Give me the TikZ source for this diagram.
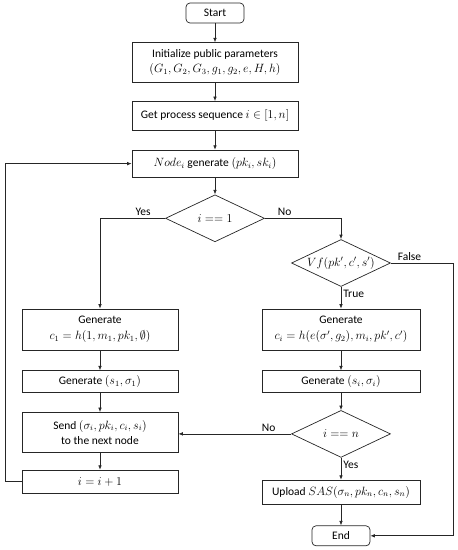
\documentclass[tikz,border=0pt]{standalone}
\usepackage{amsmath}
\usepackage{amssymb}
\usepackage{fontspec}
\setmainfont{Carlito}
\usetikzlibrary{arrows.meta,positioning,shapes.geometric}
\definecolor{fcedge}{RGB}{38,38,38}
\tikzset{
  fcbox/.style={
    draw=fcedge, line width=0.7pt, align=center, inner sep=2pt,
    font=\fontsize{11.5}{15.5}\selectfont
  },
  wbox/.style={fcbox, minimum width=166pt},
  lbox/.style={fcbox, minimum width=156pt},
  rbox/.style={fcbox, minimum width=158pt},
  term/.style={fcbox, rounded corners=4pt, minimum width=58pt, minimum height=20pt},
  dec/.style={
    draw=fcedge, line width=0.7pt, diamond, aspect=2.1, inner sep=0pt,
    minimum width=99pt, minimum height=47pt, font=\fontsize{11.5}{15.5}\selectfont
  },
  arr/.style={-{Latex[length=4.5pt,width=3.6pt]}, draw=fcedge, line width=0.7pt},
  lbl/.style={font=\fontsize{11.5}{15.5}\selectfont, inner sep=2pt}
}
\begin{document}
\begin{tikzpicture}[x=1pt, y=-1pt]
  \useasboundingbox (0,0) rectangle (458,550);
  % main column
  \node[term] (start) at (215,13) {Start};
  \node[wbox, minimum height=40pt, below=19pt of start] (init)
    {Initialize public parameters\\$(G_1, G_2, G_3, g_1, g_2, e, H, h)$};
  \node[wbox, minimum height=29pt, below=18pt of init] (seq)
    {Get process sequence $i \in [1, n]$};
  \node[wbox, minimum height=27pt, below=19pt of seq] (keygen)
    {$Node_i$ generate $(pk_i, sk_i)$};
  \node[dec, below=17pt of keygen] (isfirst) {$i == 1$};
  % left column
  \node[lbox, minimum height=41pt] (genl) at (100,329.5)
    {Generate\\$c_1 = h(1, m_1, pk_1, \emptyset)$};
  \node[lbox, minimum height=22pt, below=20pt of genl] (sigl)
    {Generate $(s_1, \sigma_1)$};
  \node[lbox, minimum height=40pt, below=19pt of sigl] (send)
    {Send $(\sigma_i, pk_i, c_i, s_i)$\\to the next node};
  \node[lbox, minimum height=23pt, below=17pt of send] (inc) {$i = i + 1$};
  % right column
  \node[dec] (verify) at (341,263) {$Vf(pk', c', s')$};
  \node[rbox, minimum height=41pt] (genr) at (341,329.5)
    {Generate\\$c_i = h(e(\sigma', g_2), m_i, pk', c')$};
  \node[rbox, minimum height=22pt, below=20pt of genr] (sigr)
    {Generate $(s_i, \sigma_i)$};
  \node[dec, below=17pt of sigr] (islast) {$i == n$};
  \node[rbox, minimum height=24pt, below=22pt of islast] (upload)
    {Upload $SAS(\sigma_n, pk_n, c_n, s_n)$};
  \node[term, below=21pt of upload] (end) {End};
  \coordinate (rside) at (453,0);
  \coordinate (lside) at (5,0);

  \draw[arr] (start) -- (init);
  \draw[arr] (init) -- (seq);
  \draw[arr] (seq) -- (keygen);
  \draw[arr] (keygen) -- (isfirst);
  \draw[arr] (isfirst.west) -| node[lbl, above, pos=0.17] {Yes} (genl.north);
  \draw[arr] (isfirst.east) -| node[lbl, above, pos=0.13] {No} (verify.north);
  \draw[arr] (verify.east) -- node[lbl, above, pos=0.3] {False} (verify.east -| rside)
    |- (end.east);
  \draw[arr] (verify.south) -- node[lbl, right, pos=0.3] {True} (genr.north);
  \draw[arr] (genl) -- (sigl);
  \draw[arr] (sigl) -- (send);
  \draw[arr] (send) -- (inc);
  \draw[arr] (genr) -- (sigr);
  \draw[arr] (sigr) -- (islast);
  \draw[arr] (islast.west) -- node[lbl, above, pos=0.2] {No} (islast.west -| send.east);
  \draw[arr] (islast) -- node[lbl, right, pos=0.3] {Yes} (upload);
  \draw[arr] (upload) -- (end);
  \draw[arr] (inc.west) -- (inc.west -| lside) |- (keygen.west);
\end{tikzpicture}
\end{document}
